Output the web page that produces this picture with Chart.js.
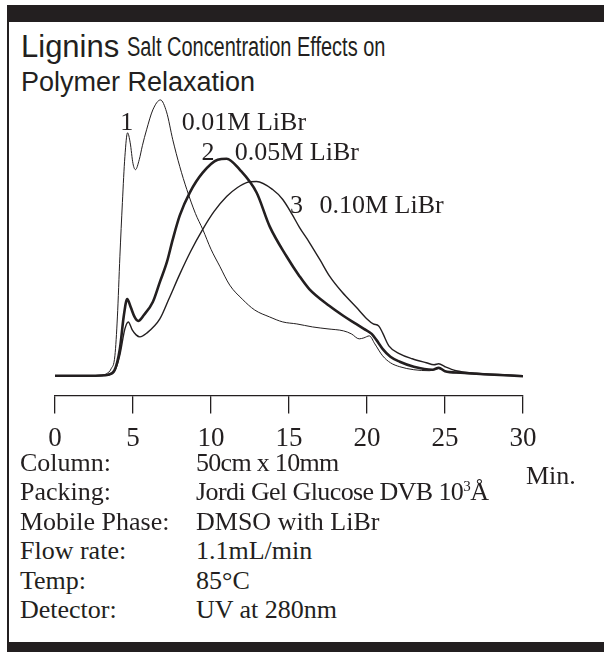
<!DOCTYPE html>
<html lang="en">
<head>
<meta charset="UTF-8">
<title>Lignins Salt Concentration Effects on Polymer Relaxation</title>
<script src="https://cdn.jsdelivr.net/npm/chart.js"></script>
<style>
  html, body { margin: 0; padding: 0; background: #fff; }
  body {
    width: 604px; height: 652px; position: relative; overflow: hidden;
    font-family: "Liberation Serif", "Times New Roman", serif; color: #231f20;
  }
  .bar { position: absolute; left: 7px; right: 0; background: #231f20; }
  #topBar { top: 5px; height: 17px; }
  #bottomBar { top: 642px; height: 10px; }
  #leftRule { position: absolute; left: 7px; top: 5px; width: 2px; height: 647px; background: #231f20; }
  .title { position: absolute; font-family: "Liberation Sans", Arial, sans-serif; line-height: 1; white-space: nowrap; }
  .info { position: absolute; font-size: 26px; line-height: 1; white-space: nowrap; }
  .info .val { position: absolute; left: 176px; }
  #chartBox { position: absolute; left: 0; top: 0; width: 604px; height: 470px; }
</style>
</head>
<body>
<div id="topBar" class="bar"></div>
<div id="leftRule"></div>
<div id="bottomBar" class="bar"></div>

<div class="title" style="left:21px; top:31px; font-size:31px;">Lignins</div>
<div class="title" style="left:127px; top:34px; font-size:27px; transform:scaleX(0.74); transform-origin:left top;">Salt Concentration Effects on</div>
<div class="title" style="left:21px; top:69px; font-size:27px;">Polymer Relaxation</div>

<div id="chartBox"><canvas id="chromatogram"></canvas></div>

<div class="info" style="left:526px; top:463px;">Min.</div>
<div class="info" style="left:20px; top:450px;">Column:<span class="val" style="letter-spacing:-0.7px;">50cm x 10mm</span></div>
<div class="info" style="left:20px; top:479px;">Packing:<span class="val" style="letter-spacing:-0.6px;">Jordi Gel Glucose DVB 10<sup style="font-size:15px; vertical-align:9px; line-height:0;">3</sup>Å</span></div>
<div class="info" style="left:20px; top:509px;">Mobile Phase:<span class="val">DMSO with LiBr</span></div>
<div class="info" style="left:20px; top:538px;">Flow rate:<span class="val">1.1mL/min</span></div>
<div class="info" style="left:20px; top:568px;">Temp:<span class="val">85°C</span></div>
<div class="info" style="left:20px; top:597px;">Detector:<span class="val">UV at 280nm</span></div>

<script>
// retention time (min) and detector response
const minutes1 = [0, 2, 3, 3.3, 3.6, 3.84, 4.0, 4.16, 4.32, 4.48, 4.65, 4.82, 5.0, 5.16, 5.4, 5.6, 5.87, 6.27, 6.76, 7.15, 7.55, 8.0, 8.45, 9.0, 9.47, 10.0, 10.56, 11.2, 12.0, 12.8, 13.76, 14.6, 15.5, 16.5, 17.5, 18.5, 19.0, 19.5, 19.8, 20.15, 20.5, 21.0, 21.5, 22.1, 23.0, 24.0, 24.6, 25.1, 26, 27.5, 30];
const signal1 = [1, 1, 1.5, 3, 8, 21, 60, 121, 175, 221, 245, 235, 214, 208, 218, 232, 248, 268, 278, 266, 238, 211, 188, 164, 148, 128, 111, 92, 78, 67, 60, 55, 53, 50, 48, 46, 43, 38, 39, 41, 33, 21, 14, 10, 7, 6, 8, 5, 3.5, 2, 0.5];

const minutes2 = [0, 2, 3, 3.4, 3.8, 4.16, 4.4, 4.63, 4.85, 5.1, 5.33, 5.7, 6.27, 6.72, 7.17, 7.55, 8.0, 8.64, 9.47, 10.43, 11.0, 11.84, 12.92, 13.76, 14.84, 15.67, 16.3, 17.6, 18.5, 19.3, 19.8, 20.3, 20.6, 21.0, 21.5, 22.1, 23.0, 24.2, 24.6, 25.0, 26, 27.5, 30];
const signal2 = [1, 1, 1.2, 2, 6, 28, 60, 78, 70, 60, 56, 62, 75, 95, 115, 138, 162, 185, 205, 218, 219, 208, 185, 151, 121, 101, 88, 71, 61, 53, 48, 43, 37, 28, 20, 15, 10, 7, 9, 5.5, 4, 2.5, 0.5];

const minutes3 = [0, 2, 3, 3.4, 3.8, 4.16, 4.48, 4.7, 4.95, 5.2, 5.44, 5.9, 6.72, 7.3, 8.0, 8.7, 9.47, 10.2, 11.0, 11.7, 12.28, 12.92, 13.95, 14.6, 15.2, 15.67, 16.3, 17.0, 17.6, 18.4, 19.3, 20.0, 20.4, 20.75, 21.0, 21.4, 22.1, 22.9, 23.8, 24.3, 24.6, 25.0, 25.7, 27, 30];
const signal3 = [1, 1, 1.2, 2, 5, 22, 48, 55, 47, 42, 40, 44, 58, 78, 103, 126, 148, 166, 181, 190, 195, 196, 188, 178, 163, 150, 135, 117, 101, 85, 70, 58, 53, 51, 44, 31, 23, 18, 14, 12, 13, 10, 6, 3.5, 1];

const seriesNames = ['0.01M LiBr', '0.05M LiBr', '0.10M LiBr'];
const xTicks = [0, 5, 10, 15, 20, 25, 30];

const ink = '#231f20';
const serif = '"Liberation Serif", "Times New Roman", serif';

function pairs(xs, ys) {
  return xs.map((x, i) => ({ x: x, y: ys[i] }));
}

// curve labels, anchored in data units (min, response)
const curveTags = [
  { num: '1', numAt: [4.6, 248], textAt: [8.13, 248] },
  { num: '2', numAt: [9.8, 218], textAt: [11.52, 218] },
  { num: '3', numAt: [15.48, 164], textAt: [16.95, 164] }
];

const tagPlugin = {
  id: 'curveTags',
  afterDatasetsDraw(chart) {
    const ctx = chart.ctx;
    const xs = chart.scales.x, ys = chart.scales.y;
    ctx.save();
    ctx.fillStyle = ink;
    ctx.font = '26px ' + serif;
    ctx.textBaseline = 'alphabetic';
    curveTags.forEach((tag, i) => {
      ctx.textAlign = 'center';
      ctx.fillText(tag.num, xs.getPixelForValue(tag.numAt[0]), ys.getPixelForValue(tag.numAt[1]));
      ctx.textAlign = 'left';
      ctx.fillText(seriesNames[i], xs.getPixelForValue(tag.textAt[0]), ys.getPixelForValue(tag.textAt[1]));
    });
    ctx.restore();
  }
};

const ctx = document.getElementById('chromatogram').getContext('2d');
new Chart(ctx, {
  type: 'line',
  data: {
    datasets: [
      { label: seriesNames[0], data: pairs(minutes1, signal1), borderWidth: 1 },
      { label: seriesNames[1], data: pairs(minutes2, signal2), borderWidth: 2.6 },
      { label: seriesNames[2], data: pairs(minutes3, signal3), borderWidth: 1.4 }
    ]
  },
  options: {
    responsive: true,
    maintainAspectRatio: false,
    animation: false,
    layout: { padding: { left: 55, right: 81, top: 88, bottom: 6 } },
    elements: {
      line: { borderColor: ink, cubicInterpolationMode: 'monotone', fill: false },
      point: { radius: 0 }
    },
    plugins: { legend: { display: false }, tooltip: { enabled: false } },
    scales: {
      x: {
        type: 'linear',
        min: 0,
        max: 30,
        afterBuildTicks: axis => { axis.ticks = xTicks.map(v => ({ value: v })); },
        grid: { drawOnChartArea: false, drawTicks: true, tickLength: 18, color: ink, lineWidth: 1.3 },
        border: { display: true, color: ink, width: 1.3 },
        ticks: { color: ink, font: { family: serif, size: 27 }, padding: 9, maxRotation: 0, autoSkip: false }
      },
      y: { display: false, min: -19, max: 290 }
    }
  },
  plugins: [tagPlugin]
});
</script>
</body>
</html>
